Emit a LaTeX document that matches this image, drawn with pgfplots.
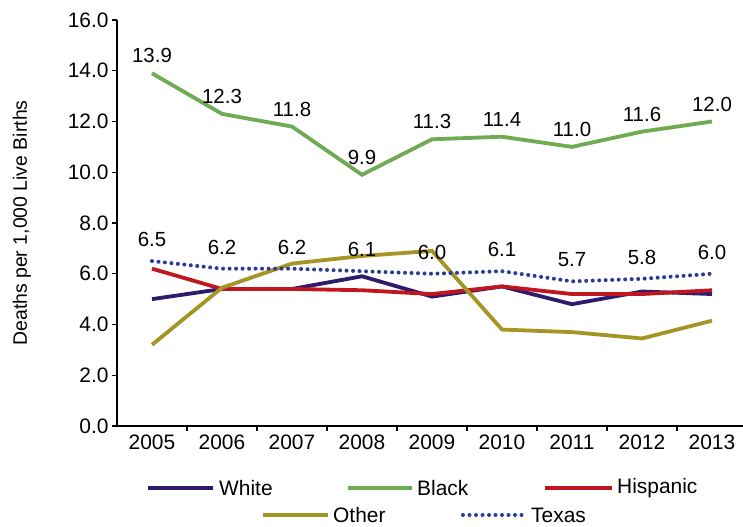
\documentclass[border=0pt]{standalone}
\usepackage{pgfplots}
\pgfplotsset{compat=1.18}
\usepackage{fontspec}
\setmainfont{Liberation Sans}
\definecolor{cwhite}{HTML}{2E1B6B}
\definecolor{cblack}{HTML}{6FAB52}
\definecolor{chisp}{HTML}{C0161F}
\definecolor{cother}{HTML}{A49524}
\definecolor{ctexas}{HTML}{2A3B96}
\tikzset{texasdots/.style={color=ctexas, line width=4bp, line cap=round, dash pattern=on 0bp off 6.5bp}}
\pgfplotsset{vlabel/.style={nodes near coords={\pgfmathprintnumber[fixed,fixed zerofill,precision=1,assume math mode=true]{\pgfplotspointmeta}},
  nodes near coords style={font=\fontsize{20.5}{24}\selectfont, text=black, anchor=south, yshift=#1}}}
\begin{document}
\begin{tikzpicture}
\useasboundingbox[fill=white] (0,0) rectangle (743bp,527bp);
\begin{axis}[
  at={(117bp,101bp)}, anchor=south west,
  scale only axis, width=626.5bp, height=406bp,
  xmin=2004.5, xmax=2013.45, ymin=0, ymax=16,
  axis x line=bottom, axis y line=left,
  axis line style={-, line width=1.3bp, black},
  ytick={0,2,...,16},
  yticklabel style={/pgf/number format/.cd, fixed, fixed zerofill, precision=1},
  xtick={2005,...,2013},
  xticklabel style={/pgf/number format/1000 sep={}},
  minor xtick={2005.5,2006.5,...,2012.5},
  major x tick style={draw=none},
  tick align=outside,
  major tick length=5bp, minor tick length=5bp,
  tick style={line width=1.3bp, black},
  /pgf/number format/assume math mode=true,
  ticklabel style={font=\fontsize{21}{24}\selectfont},
  ylabel={Deaths per 1,000 Live Births},
  ylabel style={font=\fontsize{19.5}{22}\selectfont, at={(axis description cs:-0.152,0.5)}, anchor=center},
  clip=false,
]
\addplot[cwhite, line width=3.8bp, no marks] coordinates {
(2005,5.0) (2006,5.4) (2007,5.4) (2008,5.9) (2009,5.1) (2010,5.5) (2011,4.8) (2012,5.3) (2013,5.2)};
\addplot[chisp, line width=3.8bp, no marks] coordinates {
(2005,6.2) (2006,5.4) (2007,5.4) (2008,5.35) (2009,5.2) (2010,5.5) (2011,5.2) (2012,5.2) (2013,5.35)};
\addplot[cother, line width=3.8bp, no marks] coordinates {
(2005,3.2) (2006,5.45) (2007,6.4) (2008,6.7) (2009,6.9) (2010,3.8) (2011,3.7) (2012,3.45) (2013,4.15)};
\addplot[texasdots, no marks, vlabel=9bp] coordinates {
(2005,6.5) (2006,6.2) (2007,6.2) (2008,6.1) (2009,6.0) (2010,6.1) (2011,5.7) (2012,5.8) (2013,6.0)};
\addplot[cblack, line width=3.8bp, no marks, vlabel=5bp] coordinates {
(2005,13.9) (2006,12.3) (2007,11.8) (2008,9.9) (2009,11.3) (2010,11.4) (2011,11.0) (2012,11.6) (2013,12.0)};
\end{axis}
\begin{scope}[every node/.style={font=\fontsize{21}{24}\selectfont, anchor=west, inner sep=0bp}]
\draw[cwhite, line width=3.8bp] (148bp,39bp) -- (213bp,39bp);
\node at (219bp,39bp) {White};
\draw[cblack, line width=3.8bp] (348bp,39bp) -- (412bp,39bp);
\node at (417bp,39bp) {Black};
\draw[chisp, line width=3.8bp] (545bp,39bp) -- (612bp,39bp);
\node at (617bp,39bp) {Hispanic};
\draw[cother, line width=3.8bp] (263bp,12bp) -- (328bp,12bp);
\node at (333bp,12bp) {Other};
\draw[texasdots] (463bp,12bp) -- (527bp,12bp);
\node at (531bp,12bp) {Texas};
\end{scope}
\end{tikzpicture}
\end{document}
